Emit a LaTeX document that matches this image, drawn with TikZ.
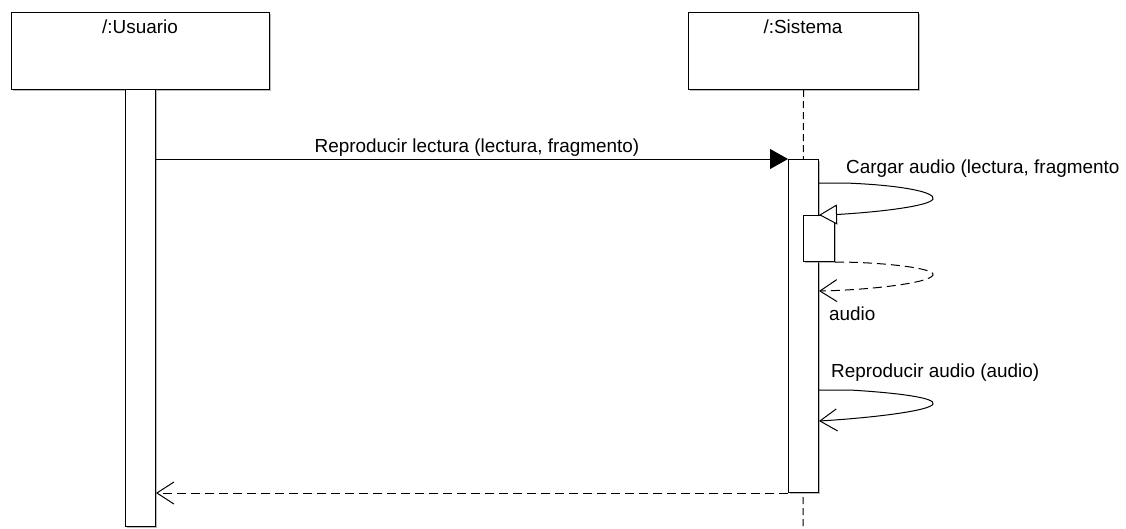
\documentclass[tikz,border=0pt]{standalone}
\usepackage{fontspec}
\setmainfont{Liberation Sans}
\usetikzlibrary{arrows.meta,shadows}
\begin{document}
\begin{tikzpicture}[x=1pt,y=-1pt,
  lbl/.style={font=\fontsize{18.9}{22}\selectfont, inner sep=0pt},
  boxshadow/.style={drop shadow={shadow xshift=1.5pt,shadow yshift=-1.5pt,fill=black!45,opacity=0.6}},
  objbox/.style={draw, fill=white, line width=1pt, anchor=north west, inner sep=0pt, boxshadow},
  actbox/.style={draw, fill=white, line width=1pt, anchor=north west, inner sep=0pt, boxshadow},
  lifeline/.style={line width=1pt, dash pattern=on 7pt off 4pt},
  msg/.style={line width=1pt},
  retmsg/.style={line width=1pt, dash pattern=on 9pt off 5pt},
  synctip/.style={-{Triangle[length=18pt,width=20pt]}},
  selftip/.style={-{Triangle[open,fill=white,length=18pt,width=20pt]}},
  opentip/.style={-{Straight Barb[length=17pt,width=22pt,line width=1pt]}}
]
\useasboundingbox (0,0) rectangle (1126,528);

% objects
\node[objbox, minimum width=258pt, minimum height=77pt] (u) at (11,12) {};
\node[lbl, anchor=base] (ut) at (140,33) {/:Usuario};
\node[objbox, minimum width=230pt, minimum height=77pt] (s) at (688,12) {};
\node[lbl, anchor=base] (st) at (803,33) {/:Sistema};

% lifeline of Sistema
\coordinate (send) at (803,528);
\draw[lifeline] (s.south) -- (send);

% activations
\node[actbox, minimum width=30pt, minimum height=437pt] (ua) at (125,89) {};
\node[actbox, minimum width=30pt, minimum height=333pt] (sa) at (788,159) {};
\node[actbox, minimum width=31pt, minimum height=46pt] (na) at (803,215) {};

% message 1
\draw[msg, synctip] (ua.east |- sa.north west) -- (sa.north west);
\node[lbl, anchor=base] (m1) at (477,152) {Reproducir lectura (lectura, fragmento)};

% self message: Cargar audio
\coordinate (c1a) at (819,183);
\coordinate (c1b) at (845,183);
\draw[msg, selftip] (c1a) -- (c1b) .. controls (900,185) and (936,192) .. (933,199)
   .. controls (930,206) and (880,212) .. (837,214.5) -- (sa.east |- na.north);
\node[lbl, anchor=base west] (m2) at (846,173) {Cargar audio (lectura, fragmento};

% return audio
\coordinate (r1) at (819,291);
\draw[retmsg, opentip] (na.south east) .. controls (880,262) and (936,268) .. (933,275)
   .. controls (930,283) and (870,290) .. (r1);
\node[lbl, anchor=base west] (m3) at (829,320) {audio};

% self message: Reproducir audio
\coordinate (p1) at (819,390);
\coordinate (p2) at (819,421);
\draw[msg, opentip] (p1) -- (850,390) .. controls (900,393) and (936,398) .. (933,404)
   .. controls (930,411) and (870,418) .. (p2);
\node[lbl, anchor=base west] (m4) at (831,377) {Reproducir audio (audio)};

% return message
\draw[retmsg, opentip] (sa.south west) -- (ua.east |- sa.south west);
\end{tikzpicture}
\end{document}
